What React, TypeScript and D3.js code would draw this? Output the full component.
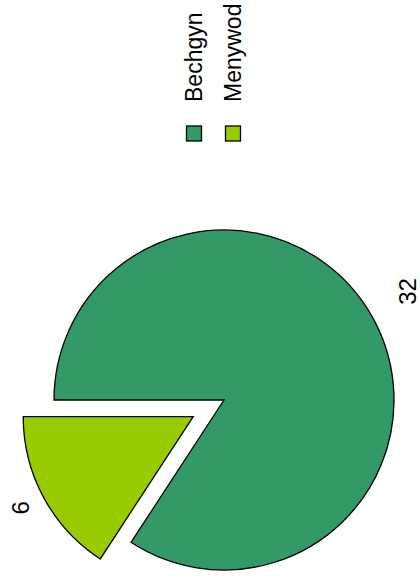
import React, { useEffect, useRef } from "react";
import * as d3 from "d3";

const categories = ["Bechgyn", "Menywod"];
const values = [32, 6];
const colors = ["#339966", "#99cc00"];

const W = 420;
const H = 582;

const App = () => {
  const svgRef = useRef<SVGSVGElement>(null);

  useEffect(() => {
    const svg = d3.select(svgRef.current);
    svg.selectAll("*").remove();

    const cx = 224,
      cy = 400,
      radius = 170,
      explode = 35;
    // label distance and small sideways shift for each slice
    const labelR = [209, 196];
    const labelShift = [-9, -2];
    const font = "Arial, 'Liberation Sans', sans-serif";

    const data = categories.map((c, i) => ({ name: c, value: values[i], color: colors[i] }));

    // chart is turned a quarter turn, so the pie starts at 9 o'clock
    const pie = d3
      .pie<any>()
      .sort(null)
      .value((d) => d.value)
      .startAngle(-Math.PI / 2)
      .endAngle((3 * Math.PI) / 2);

    const arc = d3.arc<any>().innerRadius(0).outerRadius(radius);
    const arcs = pie(data);

    const g = svg.append("g").attr("transform", `translate(${cx},${cy})`);

    arcs.forEach((a, i) => {
      const mid = (a.startAngle + a.endAngle) / 2;
      const dx = Math.sin(mid),
        dy = -Math.cos(mid);
      const off = i === 1 ? explode : 0;
      const sg = g.append("g").attr("transform", `translate(${dx * off},${dy * off})`);
      sg.append("path")
        .attr("d", arc(a))
        .attr("fill", a.data.color)
        .attr("stroke", "#000")
        .attr("stroke-width", 1.3)
        .attr("stroke-linejoin", "miter");
      sg.append("text")
        .attr(
          "transform",
          `translate(${dx * labelR[i]},${dy * labelR[i] + labelShift[i]}) rotate(-90)`
        )
        .attr("text-anchor", "middle")
        .attr("dominant-baseline", "central")
        .attr("font-family", font)
        .attr("font-size", 24)
        .text(a.data.value);
    });

    // legend
    const legX = d3.scalePoint().domain(categories).range([194, 233]);
    const leg = svg.append("g");
    data.forEach((d) => {
      const x = legX(d.name)!;
      leg.append("rect")
        .attr("x", x - 7.5)
        .attr("y", 126)
        .attr("width", 15)
        .attr("height", 15)
        .attr("fill", d.color)
        .attr("stroke", "#000")
        .attr("stroke-width", 1.3);
      leg.append("text")
        .attr("transform", `translate(${x},102) rotate(-90)`)
        .attr("text-anchor", "start")
        .attr("dominant-baseline", "central")
        .attr("font-family", font)
        .attr("font-size", 23)
        .text(d.name);
    });
  }, []);

  return (
    <svg
      ref={svgRef}
      width={W}
      height={H}
      style={{ position: "absolute", left: 0, top: 0, background: "#fff" }}
    ></svg>
  );
};

export default App;
